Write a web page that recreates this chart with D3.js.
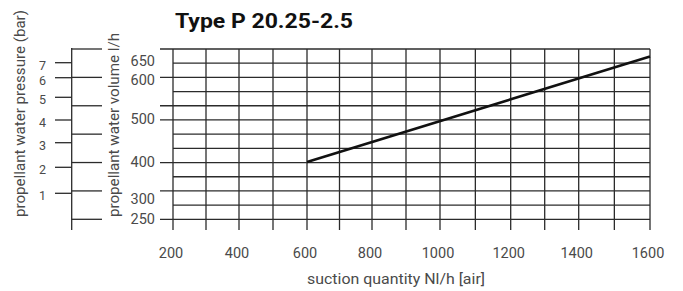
<!DOCTYPE html>
<html><head><meta charset="utf-8">
<script src="https://cdn.jsdelivr.net/npm/d3@7/dist/d3.min.js"></script>
<style>body{margin:0;background:#fff}svg{display:block}</style>
</head><body><svg id="c" width="683" height="291"></svg>
<script>
// ---- data ----
const chartTitle = "Type P 20.25-2.5";
const xTitle = "suction quantity Nl/h [air]";
const volumeTitle = "propellant water volume l/h";
const pressureTitle = "propellant water pressure (bar)";
const suctionTicks = [200, 400, 600, 800, 1000, 1200, 1400, 1600];
const suctionGrid = [200, 300, 400, 500, 600, 700, 800, 900, 1000, 1100, 1200, 1300, 1400, 1500, 1600];
const volumeTicks = [250, 300, 400, 500, 600, 650];
const pressureTicks = [1, 2, 3, 4, 5, 6, 7];
const gridRows = [0, 1, 2, 3, 4, 5, 6, 7, 8, 9, 10, 11, 12];
const volumeTickRows = [0, 2, 4, 5, 8, 10, 12];
const pressureScaleRows = [0, 2, 4, 6, 8, 10, 12];
const lineSuction = [600, 1600];
const lineVolume = [400, 662];

// ---- scales ----
const x = d3.scaleLinear().domain(suctionTicks).range([173, 239, 307, 372, 440, 510.7, 578.7, 650]);
const row = d3.scaleLinear().domain([0, 12]).range([49, 219.3]);
const vol = d3.scaleLinear().domain(volumeTicks).range([218.7, 199, 162, 119, 80, 61]);
const pres = d3.scaleLinear().domain(pressureTicks).range([193.3, 167.3, 142.7, 120, 97.3, 77.7, 62.7]);

const svg = d3.select("#c");
const gridColor = "#2b2b2b";
const textColor = "#4a4a4a";
const font = "Roboto, 'Noto Sans', sans-serif";

// title
svg.append("text").attr("x", 175).attr("y", 28)
  .attr("font-family", font).attr("font-weight", 700).attr("font-size", 20)
  .attr("textLength", 178).attr("lengthAdjust", "spacingAndGlyphs")
  .attr("fill", "#111").text(chartTitle);

// vertical grid lines (extend below as ticks)
svg.append("g").selectAll("line").data(suctionGrid).join("line")
  .attr("x1", d => x(d)).attr("x2", d => x(d))
  .attr("y1", row(0)).attr("y2", 230)
  .attr("stroke", gridColor).attr("stroke-width", 1.3);

// horizontal grid lines
svg.append("g").selectAll("line").data(gridRows).join("line")
  .attr("x1", d => volumeTickRows.includes(d) ? 160 : x(200)).attr("x2", x(1600))
  .attr("y1", d => row(d)).attr("y2", d => row(d))
  .attr("stroke", gridColor).attr("stroke-width", 1.3);

// volume tick labels
svg.append("g").selectAll("text").data(volumeTicks).join("text")
  .attr("x", 155).attr("y", d => vol(d)).attr("dy", "0.36em")
  .attr("text-anchor", "end").attr("font-family", font).attr("font-size", 14.5)
  .attr("fill", textColor).text(d => d);

// pressure axis
const px = 71.7;
svg.append("line").attr("x1", px).attr("x2", px).attr("y1", 48).attr("y2", 230)
  .attr("stroke", gridColor).attr("stroke-width", 1.3);
svg.append("g").selectAll("line").data(pressureScaleRows).join("line")
  .attr("x1", px).attr("x2", 102).attr("y1", d => row(d)).attr("y2", d => row(d))
  .attr("stroke", gridColor).attr("stroke-width", 1.3);
svg.append("g").selectAll("line").data(pressureTicks).join("line")
  .attr("x1", 55).attr("x2", px).attr("y1", d => pres(d)).attr("y2", d => pres(d))
  .attr("stroke", gridColor).attr("stroke-width", 1.3);
svg.append("g").selectAll("text").data(pressureTicks).join("text")
  .attr("x", 46).attr("y", d => pres(d) + 2.5).attr("dy", "0.36em")
  .attr("text-anchor", "end").attr("font-family", font).attr("font-size", 12.5)
  .attr("fill", textColor).text(d => d);

// x tick labels
svg.append("g").selectAll("text").data(suctionTicks).join("text")
  .attr("x", d => x(d) - 2).attr("y", 253).attr("dy", "0.36em")
  .attr("text-anchor", "middle").attr("font-family", font).attr("font-size", 14.5)
  .attr("fill", textColor).text(d => d);

// axis titles
svg.append("text").attr("x", 396).attr("y", 284)
  .attr("text-anchor", "middle").attr("font-family", font).attr("font-size", 15)
  .attr("textLength", 178).attr("lengthAdjust", "spacingAndGlyphs")
  .attr("fill", textColor).text(xTitle);
svg.append("text").attr("transform", "translate(25,113.5) rotate(-90)")
  .attr("text-anchor", "middle").attr("font-family", font).attr("font-size", 14)
  .attr("textLength", 207).attr("lengthAdjust", "spacingAndGlyphs")
  .attr("fill", textColor).text(pressureTitle);
svg.append("text").attr("transform", "translate(119,125) rotate(-90)")
  .attr("text-anchor", "middle").attr("font-family", font).attr("font-size", 14)
  .attr("textLength", 184).attr("lengthAdjust", "spacingAndGlyphs")
  .attr("fill", textColor).text(volumeTitle);

// characteristic line
const pts = lineSuction.map((s, i) => [x(s), vol(lineVolume[i])]);
svg.append("path").attr("d", d3.line()(pts))
  .attr("fill", "none").attr("stroke", "#111").attr("stroke-width", 2.6);
</script></body></html>
